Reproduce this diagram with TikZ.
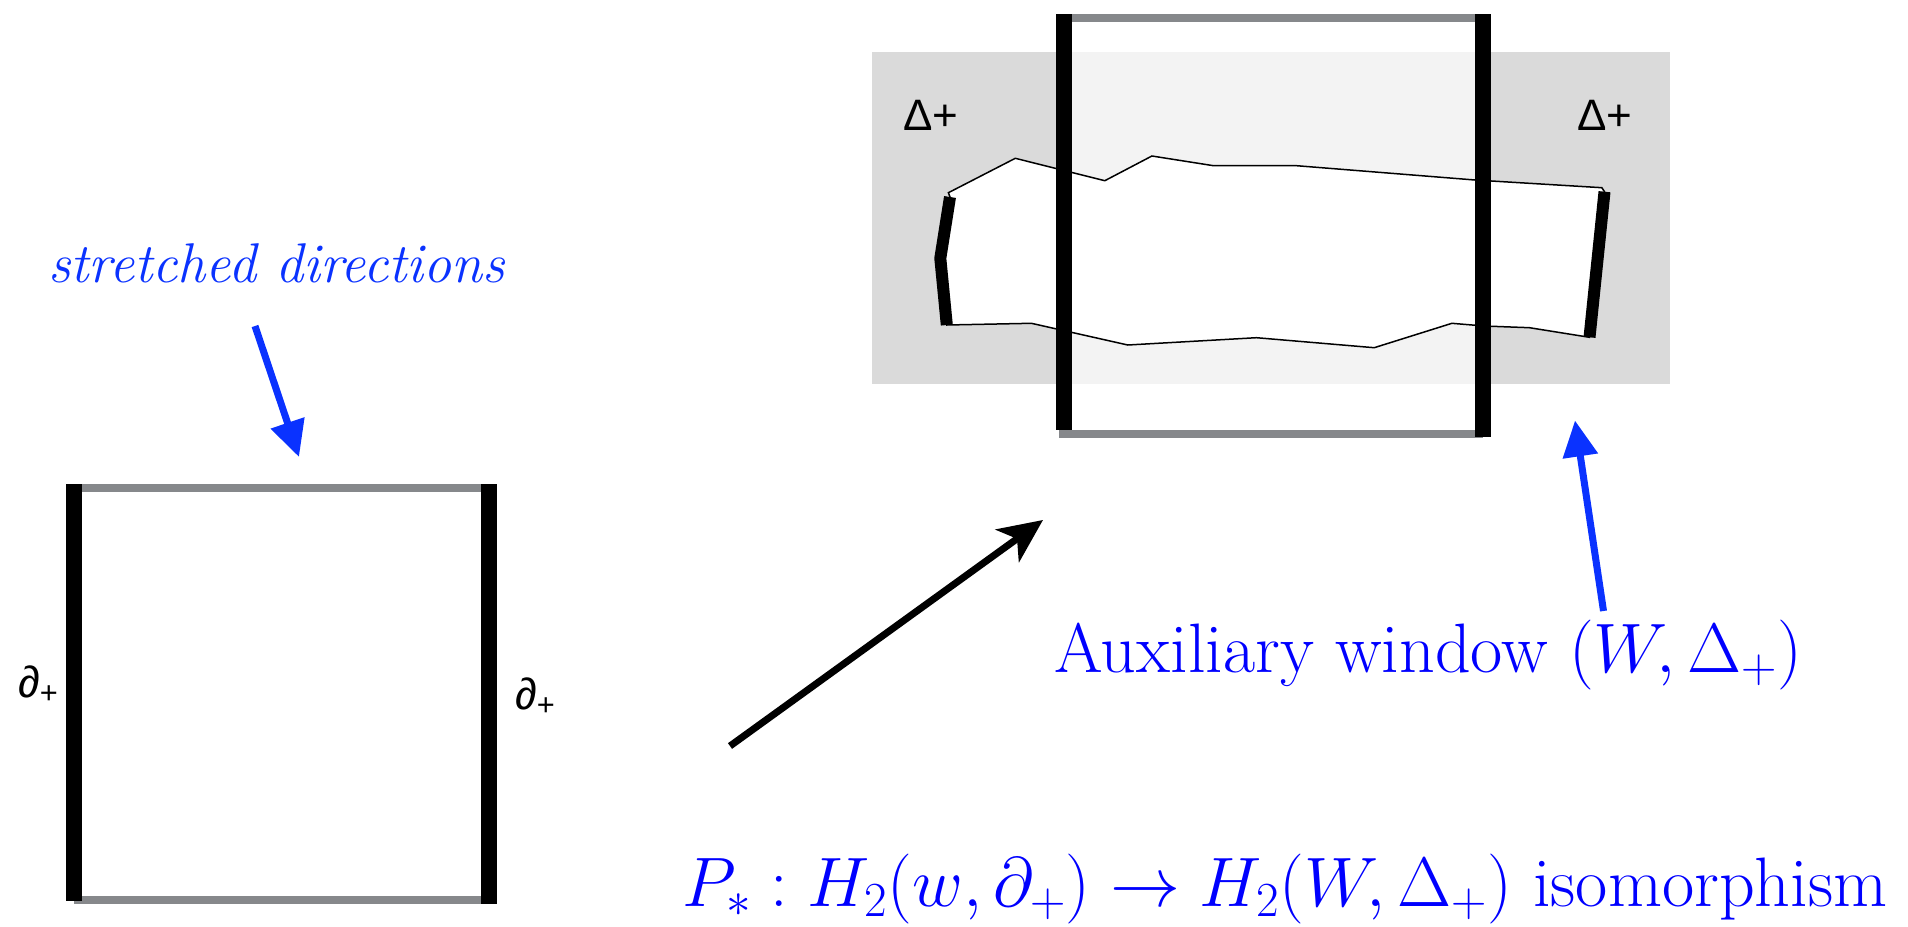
\RequirePackage{fix-cm}
\documentclass[tikz,border=0pt]{standalone}
\usepackage{fontspec}
\newfontfamily\sansf{Liberation Sans}
\usetikzlibrary{arrows.meta}
\definecolor{arrowblue}{RGB}{10,50,255}
\definecolor{edgegray}{RGB}{134,136,139}
\definecolor{bandgray}{RGB}{218,218,218}
\definecolor{bandlight}{RGB}{243,243,243}
\DeclareMathSizes{70}{70}{49}{35}
\begin{document}
\begin{tikzpicture}[x=1pt,y=-1pt,
  sidebar/.style={line width=16pt,black},
  edgeline/.style={line width=8pt,edgegray},
  endbar/.style={line width=12pt,black},
  strip/.style={fill=white,draw=black,line width=1.5pt},
  bluearrow/.style={arrowblue,line width=7pt,-{Triangle[length=36pt,width=34pt]}},
  blackarrow/.style={black,line width=7pt,-{Stealth[length=44pt,width=40pt,inset=12pt]}},
  sanslabel/.style={font=\sansf\fontsize{44}{48}\selectfont,inner sep=0pt,anchor=base west},
  bluetext/.style={text=blue,inner sep=0pt,anchor=base west,font=\fontsize{70}{76}\selectfont},
  stretchtext/.style={text=arrowblue,inner sep=0pt,anchor=base west,font=\itshape\fontsize{56}{62}\selectfont}]
\useasboundingbox (0,0) rectangle (1908,926);

% left square
\draw[edgeline] (74,488) -- (489,488);
\draw[edgeline] (74,900) -- (489,900);
\draw[sidebar] (74,484) -- (74,901);
\draw[sidebar] (489,484) -- (489,904);
\node[sanslabel] (dl) at (18,697) {∂\textsubscript{+}};
\node[sanslabel] (dr) at (515,709) {∂\textsubscript{+}};

% stretched directions
\node[stretchtext] (st) at (48,282) {stretched directions};
\coordinate (sta) at (255,326);
\coordinate (stb) at (299,457);
\draw[bluearrow] (sta) -- (stb);

% window
\fill[bandgray] (872,52) rectangle (1670,384);
\fill[bandlight] (1063,52) rectangle (1483,384);
\draw[strip] (950,197) -- (948.4,192.7) -- (1015.3,158.3) -- (1104.8,180.7)
  -- (1151.9,156) -- (1213.5,165.7) -- (1296.5,165.7) -- (1474.9,180)
  -- (1601.8,187.7) -- (1604.5,191.7) -- (1589.5,337.3) -- (1529.5,327.7)
  -- (1484,326) -- (1451.9,323.3) -- (1374.2,347.7) -- (1256.4,337.7)
  -- (1127.8,345) -- (1031.4,323.3) -- (946.8,325) -- (940.3,258.3) -- cycle;
\draw[endbar] (950,197) -- (940.3,258.3) -- (946.8,325);
\draw[endbar] (1604.5,191.7) -- (1589.5,337.3);
\draw[edgeline] (1063,18) -- (1483,18);
\draw[edgeline] (1059,433.5) -- (1483,433.5);
\draw[sidebar] (1063.5,14) -- (1063.5,430);
\draw[sidebar] (1483,14) -- (1483,437);
\node[sanslabel] (dA) at (903,130) {Δ+};
\node[sanslabel] (dB) at (1577,130) {Δ+};

% arrows
\coordinate (ba) at (730,746);
\coordinate (bb) at (1043,520);
\draw[blackarrow] (ba) -- (bb);
\coordinate (ra) at (1603.5,611);
\coordinate (rb) at (1575,420.5);
\draw[bluearrow] (ra) -- (rb);

% texts
\node[bluetext] (aux) at (1054,672) {Auxiliary window $(W,\Delta_+)$};
\node[bluetext] (iso) at (682,906) {$P_*: H_2(w,\partial_+) \to H_2(W,\Delta_+)$ isomorphism};
\end{tikzpicture}
\end{document}
